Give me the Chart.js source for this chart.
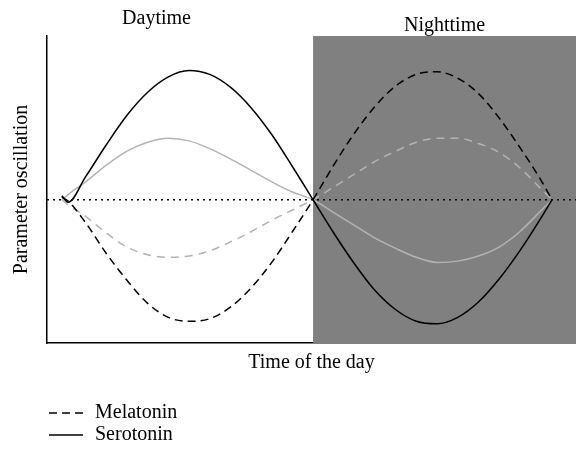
<!DOCTYPE html>
<html>
<head>
<meta charset="utf-8">
<script src="https://cdn.jsdelivr.net/npm/chart.js@4.4.0/dist/chart.umd.min.js"></script>
<style>
  html, body { margin: 0; padding: 0; background: #fff; }
  #wrap { width: 576px; height: 450px; }
</style>
</head>
<body>
<div id="wrap"><canvas id="rhythm-chart"></canvas></div>
<script>
// hours from the start of the light phase (day 0-12, night 12-23.56)
const hours = [-0.15, 0.15, 1, 2, 3, 4, 5, 6, 7, 8, 9, 10, 11, 12,
               13, 14, 15, 16, 17, 18, 19, 20, 21, 22, 23, 23.56];

// black curves
const melatonin = [2, -1, -18, -42, -63, -81, -92, -95, -93, -84, -69, -49, -25, 0,
                   27, 52, 73, 89, 98, 100, 95, 83, 64, 41, 16, 0];
const serotonin = [3, -2, 18, 43, 66, 84, 96, 101, 98, 88, 72, 51, 26, 0,
                   -26, -50, -71, -86, -95, -97, -92, -80, -62, -40, -15, 0];

// grey curves (smaller amplitude)
const melatoninGrey = [0, -4, -13, -26, -37, -43, -45, -44, -40, -33, -25, -16, -8, 0,
                       10, 20, 30, 38, 45, 48, 48, 44, 37, 25, 9, 0];
const serotoninGrey = [0, 4, 14, 27, 38, 45, 48, 46, 40, 32, 23, 14, 6, 0,
                       -10, -20, -30, -38, -45, -49, -48, -44, -37, -25, -9, 0];

const periodNames = ['Daytime', 'Nighttime'];
const nightStart = 12;
const legendNames = ['Melatonin', 'Serotonin'];

const xMin = -0.87, xMax = 24.72;
const yMin = -112, yMax = 128;

const pts = (vals) => vals.map((v, i) => ({ x: hours[i], y: v }));

Chart.defaults.font.family = "'Liberation Serif', 'DejaVu Serif', serif";
Chart.defaults.font.size = 20;
Chart.defaults.color = '#000';

// grey night panel, drawn under the curves
const nightShade = {
  id: 'nightShade',
  beforeDatasetsDraw(chart) {
    const { ctx, chartArea, scales } = chart;
    const x0 = scales.x.getPixelForValue(nightStart);
    ctx.save();
    ctx.fillStyle = '#808080';
    ctx.fillRect(x0, chartArea.top, chartArea.right - x0, chartArea.bottom - chartArea.top + 1);
    ctx.restore();
  }
};

// Daytime / Nighttime headings + the line legend under the axis title
const annotations = {
  id: 'annotations',
  afterDraw(chart) {
    const { ctx, chartArea, scales } = chart;
    const x0 = scales.x.getPixelForValue(nightStart);
    ctx.save();
    ctx.font = "20px 'Liberation Serif', serif";
    ctx.fillStyle = '#000';
    ctx.textAlign = 'center';
    ctx.textBaseline = 'middle';
    ctx.fillText(periodNames[0], x0 / 2, chartArea.top - 17);
    ctx.fillText(periodNames[1], (x0 + chart.width) / 2, chartArea.top - 10);

    ctx.textAlign = 'left';
    let y = scales.x.bottom + 38;
    chart.data.datasets.forEach(ds => {
      if (!legendNames.includes(ds.label)) return;
      const left = chartArea.left + 2;
      ctx.strokeStyle = ds.borderColor;
      ctx.lineWidth = ds.borderWidth;
      ctx.setLineDash(ds.borderDash || []);
      ctx.beginPath();
      ctx.moveTo(left, y);
      ctx.lineTo(left + 34, y);
      ctx.stroke();
      ctx.fillText(ds.label, left + 46, y);
      y += 22;
    });
    ctx.restore();
  }
};

new Chart(document.getElementById('rhythm-chart'), {
  type: 'line',
  data: {
    datasets: [
      {
        label: legendNames[0],
        data: pts(melatonin),
        borderColor: '#000',
        borderWidth: 1.5,
        borderDash: [8, 5],
        order: 1
      },
      {
        label: legendNames[1],
        data: pts(serotonin),
        borderColor: '#000',
        borderWidth: 1.5,
        order: 1
      },
      {
        label: 'melatonin-grey',
        data: pts(melatoninGrey),
        borderColor: '#b3b3b3',
        borderWidth: 1.5,
        borderDash: [8, 6],
        order: 2
      },
      {
        label: 'serotonin-grey',
        data: pts(serotoninGrey),
        borderColor: '#b3b3b3',
        borderWidth: 1.5,
        order: 2
      },
      {
        label: 'baseline',
        data: [{ x: xMin, y: 0 }, { x: xMax, y: 0 }],
        borderColor: '#000',
        borderWidth: 1.5,
        borderDash: [2, 4],
        order: 0
      }
    ]
  },
  options: {
    responsive: true,
    maintainAspectRatio: false,
    animation: false,
    layout: { padding: { left: 0, right: 0, top: 36, bottom: 75 } },
    elements: {
      point: { radius: 0, hoverRadius: 0 },
      line: { cubicInterpolationMode: 'monotone', fill: false }
    },
    plugins: {
      legend: { display: false },
      tooltip: { enabled: false }
    },
    scales: {
      x: {
        type: 'linear',
        min: xMin,
        max: xMax,
        grid: { display: false, drawTicks: false },
        ticks: { display: false },
        border: { display: true, color: '#000', width: 1.5 },
        title: {
          display: true,
          text: 'Time of the day',
          padding: { top: 8, bottom: 0 }
        }
      },
      y: {
        min: yMin,
        max: yMax,
        grid: { display: false, drawTicks: false },
        ticks: { display: false },
        border: { display: true, color: '#000', width: 1.5 },
        title: {
          display: true,
          text: 'Parameter oscillation',
          padding: { top: 10, bottom: 13 }
        }
      }
    }
  },
  plugins: [nightShade, annotations]
});
</script>
</body>
</html>
